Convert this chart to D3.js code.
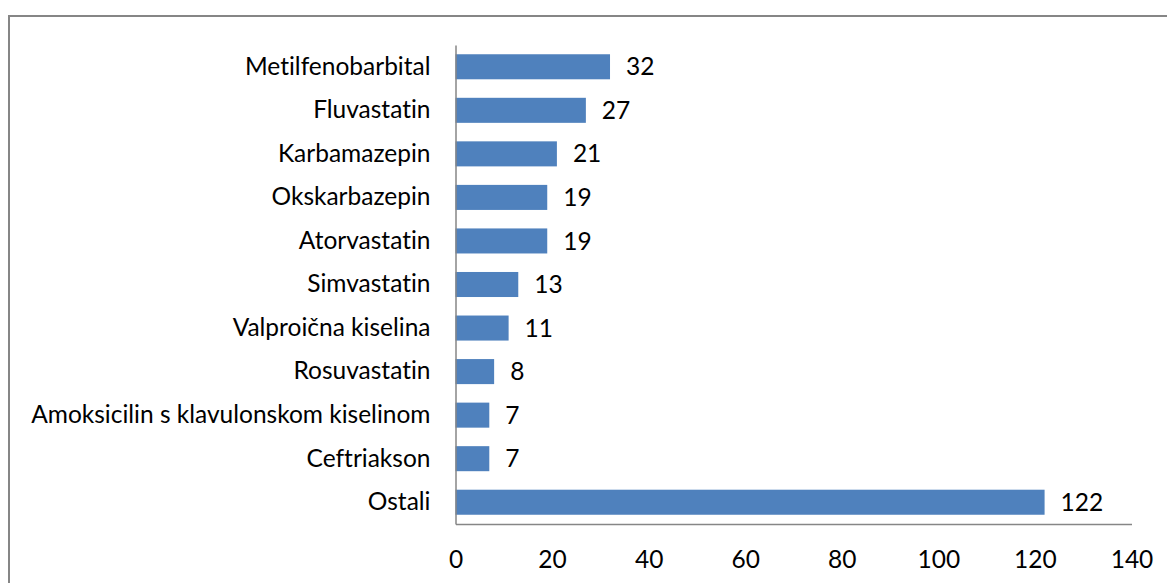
<!DOCTYPE html>
<html>
<head>
<meta charset="utf-8">
<script src="https://cdn.jsdelivr.net/npm/d3@7"></script>
<style>
  body { margin: 0; background: #fff; }
  text { font-family: Lato, "Open Sans", sans-serif; fill: #000; font-variant-ligatures: none; }
</style>
</head>
<body>
<div id="chart-area"></div>
<script>
// page size
var width = 1167,
	height = 583;

// data, top to bottom
var drugs = ["Metilfenobarbital", "Fluvastatin", "Karbamazepin", "Okskarbazepin",
	"Atorvastatin", "Simvastatin", "Valproična kiselina", "Rosuvastatin",
	"Amoksicilin s klavulonskom kiselinom", "Ceftriakson", "Ostali"];
var counts = [32, 27, 21, 19, 19, 13, 11, 8, 7, 7, 122];
var xTicks = [0, 20, 40, 60, 80, 100, 120, 140];

var fontSize = 24.5;

var svg = d3.select("#chart-area")
	.append("svg")
	.attr("width", width)
	.attr("height", height);

// chart frame (only top and left edges are inside the picture)
svg.append("path")
	.attr("d", "M9," + height + " V16 H" + width)
	.attr("fill", "none")
	.attr("stroke", "#868686")
	.attr("stroke-width", 2);

var plot = {left: 455.5, right: 1131.5, top: 45, bottom: 524};

var x = d3.scaleLinear()
	.domain([0, 140])
	.range([plot.left, plot.right]);

var y = d3.scaleBand()
	.domain(drugs)
	.range([plot.top, plot.bottom])
	.paddingInner(0.425)
	.paddingOuter(0.2125);

svg.selectAll("rect.bar").data(drugs).enter()
	.append("rect")
	.attr("class", "bar")
	.attr("x", x(0))
	.attr("y", function (d) {return y(d)})
	.attr("width", function (d, i) {return x(counts[i]) - x(0)})
	.attr("height", y.bandwidth())
	.attr("fill", "#4F81BD");

// value labels
svg.selectAll("text.val").data(drugs).enter()
	.append("text")
	.attr("class", "val")
	.attr("x", function (d, i) {return x(counts[i]) + 16})
	.attr("y", function (d) {return y(d) + y.bandwidth() / 2})
	.attr("dy", "0.35em")
	.attr("font-size", fontSize)
	.text(function (d, i) {return counts[i]});

// axes
var xAxis = d3.axisBottom(x).tickValues(xTicks).tickSize(0).tickPadding(27);
var yAxis = d3.axisLeft(y).tickSize(0).tickPadding(25);

var gx = svg.append("g")
	.attr("transform", "translate(0," + plot.bottom + ")")
	.call(xAxis);
gx.select(".domain").attr("stroke", "#868686").attr("stroke-width", 1.5);
gx.selectAll("text").attr("font-size", fontSize).attr("font-family", "Lato, 'Open Sans', sans-serif").attr("fill", "#000");

var gy = svg.append("g")
	.attr("transform", "translate(" + plot.left + ",0)")
	.call(yAxis);
gy.select(".domain").attr("stroke", "#868686").attr("stroke-width", 1.5);
gy.selectAll("text").attr("font-size", fontSize).attr("font-family", "Lato, 'Open Sans', sans-serif").attr("fill", "#000");
</script>
</body>
</html>
